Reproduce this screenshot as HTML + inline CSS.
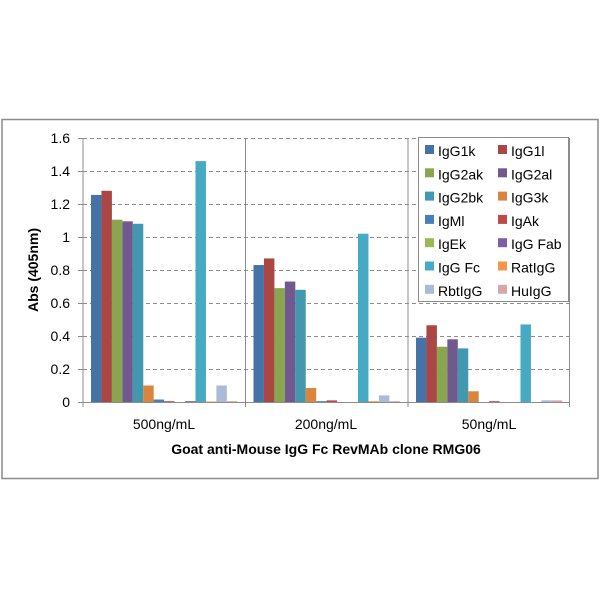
<!DOCTYPE html>
<html><head><meta charset="utf-8"><style>
html,body{margin:0;padding:0;background:#fff;}
svg{display:block;font-family:"Liberation Sans",Calibri,sans-serif;}
</style></head><body>
<svg id="s" width="600" height="600" xmlns="http://www.w3.org/2000/svg">
<rect x="2" y="119.5" width="596" height="359" fill="#fff" stroke="#8c8c8c" stroke-width="1.5"/>
<g id="grid" stroke="#8c8c8c" stroke-dasharray="4,3" stroke-width="1"></g>
<g id="bars"></g>
<g stroke="#8c8c8c" stroke-width="1">
<line x1="83" y1="138" x2="83" y2="407"/>
<line x1="78" y1="402.5" x2="570" y2="402.5"/>
<line x1="245.5" y1="138" x2="245.5" y2="407"/>
<line x1="408" y1="138" x2="408" y2="407"/>
<line x1="569.5" y1="138" x2="569.5" y2="407"/>
</g>
<g id="yl" font-size="14" fill="#000" text-anchor="end"></g>
<g font-size="14" text-anchor="middle">
<text x="164" y="429">500ng/mL</text>
<text x="326" y="429">200ng/mL</text>
<text x="489" y="429">50ng/mL</text>
</g>
<text x="326" y="454" font-size="14" font-weight="bold" text-anchor="middle">Goat anti-Mouse IgG Fc RevMAb clone RMG06</text>
<text transform="translate(38,270) rotate(-90)" font-size="14" font-weight="bold" text-anchor="middle">Abs (405nm)</text>
<rect x="418.5" y="137.5" width="150" height="164" fill="#fff" stroke="#8c8c8c"/>
<g id="leg" font-size="14"></g>
</svg>
<script>
var cols=["#4572a7","#aa4643","#89a54e","#71588f","#4198af","#db843d","#4a7ebb","#be4b48","#98b954","#7d60a0","#46aac5","#f79646","#aabad7","#d8a7ab"];
var names=["IgG1k","IgG1l","IgG2ak","IgG2al","IgG2bk","IgG3k","IgMl","IgAk","IgEk","IgG Fab","IgG Fc","RatIgG","RbtIgG","HuIgG"];
var d=[[1.255,1.28,1.105,1.095,1.08,0.1,0.015,0.005,0,0.005,1.46,0.003,0.1,0.005],
[0.83,0.87,0.69,0.73,0.68,0.085,0.005,0.01,0,0,1.02,0.005,0.04,0.005],
[0.39,0.465,0.335,0.38,0.325,0.065,0,0.005,0,0,0.47,0,0.01,0.01]];
var ns="http://www.w3.org/2000/svg";
function el(p,t,a,txt){var e=document.createElementNS(ns,t);for(var k in a)e.setAttribute(k,a[k]);if(txt)e.textContent=txt;document.getElementById(p).appendChild(e);}
for(var i=0;i<=8;i++){var y=402-i*33;if(i>0)el("grid","line",{x1:83,x2:569,y1:y+0.5,y2:y+0.5});el("grid","line",{x1:78,x2:83,y1:y+0.5,y2:y+0.5,"stroke-dasharray":"none"});
var lab=(i*0.2).toFixed(1).replace(/\.0$/,"");if(i==0)lab="0";el("yl","text",{x:70,y:y+5},lab);}
var g0=[91,253.5,416];
for(var g=0;g<3;g++)for(var j=0;j<14;j++){var v=d[g][j];if(v<=0)continue;var h=v*165;el("bars","rect",{x:g0[g]+j*10.45,y:402-h,width:10.45,height:h,fill:cols[j]});}
for(var j=0;j<14;j++){var c=j%2,r=Math.floor(j/2);var x=c?498:425,y=144+r*23.3;
el("leg","rect",{x:x,y:y+1,width:9,height:9,fill:cols[j]});el("leg","text",{x:x+13,y:y+12},names[j]);}
</script>
</body></html>
